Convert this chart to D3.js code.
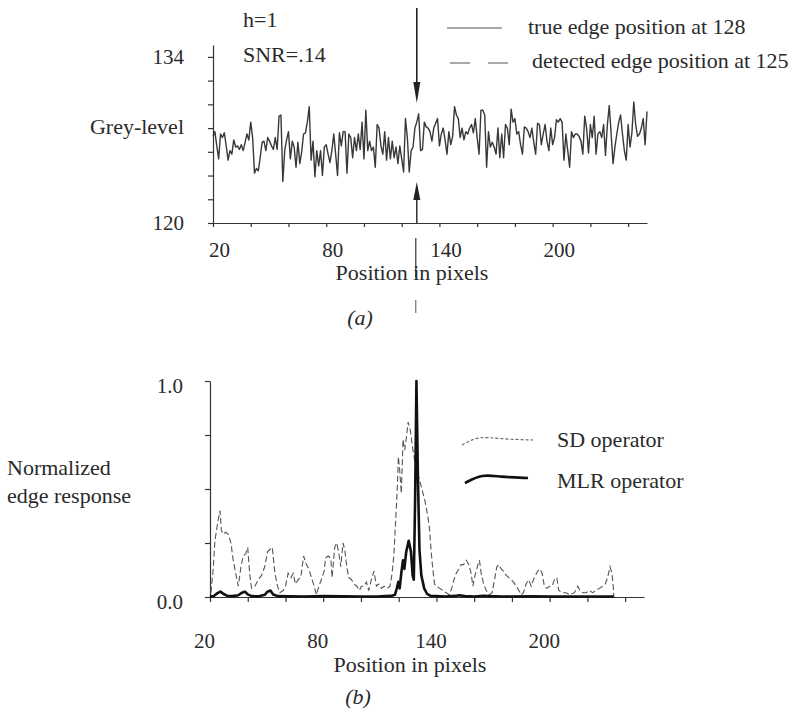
<!DOCTYPE html>
<html lang="en">
<head>
<meta charset="UTF-8">
<title>Grey-level profile and normalized edge response</title>
<script src="https://cdnjs.cloudflare.com/ajax/libs/d3/7.8.5/d3.min.js"></script>
<style>
  body { margin: 0; background: #fff; }
  svg { display: block; background: #fff; }
  text { font-family: "Liberation Serif", "Times New Roman", serif; fill: #2a2a2a; }
  .axis path, .axis line { stroke: #333; stroke-width: 1.2; }
  .axis text { font-size: 21px; }
  .label { font-size: 22px; }
</style>
</head>
<body>
<div id="chart"></div>
<script>
// ---- panel (a): grey-level profile, one sample per pixel from 20
const greyStart = 20;
const greyLevel = [
  127.3, 127.7, 126.5, 125.4, 127.5, 127.2, 127.6, 126.5, 125.3, 126.1,
  125.8, 127.0, 126.4, 126.5, 126.2, 126.6, 126.1, 126.8, 127.5, 127.0,
  128.5, 127.2, 124.2, 124.6, 124.4, 125.5, 126.8, 126.9, 126.1, 127.2,
  126.9, 126.5, 126.2, 127.2, 126.2, 129.0, 129.1, 123.5, 126.1, 127.0,
  127.7, 125.4, 126.9, 126.4, 124.7, 126.8, 125.0, 126.0, 127.5, 127.6,
  128.5, 129.8, 125.3, 126.9, 123.9, 126.1, 124.8, 126.1, 124.0, 126.4,
  126.6, 125.8, 125.1, 126.1, 127.5, 125.8, 124.0, 127.6, 126.5, 127.7,
  127.7, 124.2, 127.5, 127.2, 125.5, 127.2, 126.1, 127.5, 126.2, 128.5,
  125.4, 129.5, 126.1, 126.9, 126.1, 126.4, 124.7, 128.3, 128.0, 126.5,
  125.8, 127.7, 125.3, 127.2, 125.4, 126.9, 125.5, 126.4, 125.0, 126.5,
  125.4, 124.3, 128.8, 127.2, 124.3, 126.1, 126.4, 128.0, 128.5, 129.2,
  126.1, 126.2, 128.5, 128.1, 128.0, 127.7, 126.9, 128.0, 128.4, 128.8,
  126.5, 127.5, 128.0, 127.0, 125.8, 127.7, 126.6, 127.3, 129.8, 129.1,
  128.8, 127.2, 128.0, 127.0, 127.7, 127.5, 128.0, 128.3, 127.6, 128.8,
  127.2, 125.8, 129.5, 129.5, 129.1, 124.7, 127.7, 126.4, 126.8, 126.4,
  125.8, 128.0, 125.5, 127.5, 125.5, 128.3, 128.0, 126.6, 129.6, 128.5,
  128.8, 127.5, 127.7, 126.6, 125.8, 128.1, 128.0, 127.7, 127.2, 128.0,
  126.8, 125.8, 128.4, 128.3, 126.6, 127.5, 128.3, 126.9, 126.1, 128.0,
  126.6, 127.2, 128.7, 128.5, 128.8, 128.5, 125.3, 127.5, 126.1, 124.7,
  127.7, 127.2, 127.5, 127.5, 127.3, 126.9, 125.8, 129.0, 128.0, 125.9,
  128.3, 127.2, 129.0, 125.8, 127.5, 127.7, 127.2, 128.3, 125.7, 128.3,
  129.9, 127.5, 125.0, 126.4, 127.5, 128.5, 129.1, 127.5, 126.1, 125.3,
  128.3, 126.4, 127.6, 130.2, 128.3, 127.3, 127.5, 128.0, 128.8, 126.6,
  129.4
];
const trueEdge = 128;
const detectedEdge = 125;
const topXTicks = [20, 40, 60, 80, 100, 120, 140, 160, 180, 200, 220, 240];
const topXLabels = [20, 80, 140, 200];
const topYTicks = [120, 122, 124, 126, 128, 130, 132, 134];
const topYLabels = [120, 134];

// ---- panel (b): normalized edge responses
const sdPos = [
  20.5, 21.8, 22.6, 24, 25.3, 26, 27, 28.3, 29.7, 31.1, 32.3, 33.6, 35, 36.4, 37.6,
  38.9, 40, 41, 42, 43.8, 45.6, 47.3, 49, 50.5, 51.7, 53, 54.4, 55.8, 57, 58.8,
  60, 61.4, 62.9, 64.1, 65.3, 66.7, 68.1, 69.6, 71.1, 72.4, 73.8, 75.2, 76.4, 77.7, 79,
  80.5, 81.2, 82.6, 84, 84.7, 86.1, 87.2, 88.3, 89.3, 90.5, 91.4, 92.5, 93.5, 95, 96.4,
  97.8, 99.2, 100.2, 101.6, 102.9, 104.1, 105.5, 106.9, 108.2, 109.4, 110.8, 112.2, 114, 115.4, 116.5,
  117.5, 118.6, 119.3, 119.8, 120.5, 121.4, 122.3, 123.2, 124.1, 125, 126.2, 127.2, 128.5, 130.2, 132,
  133.8, 135.5, 136.4, 137.3, 138.2, 139, 139.9, 141.7, 143.4, 145.2, 147, 148.4, 149.6, 150.5, 151.9,
  153.1, 154.4, 155.8, 157.2, 158.4, 159.3, 160.7, 162, 162.8, 163.7, 165, 166.4, 168.1, 169.5, 170.8,
  172, 173.1, 174.3, 175.5, 177, 178.4, 179.6, 180.8, 182.3, 183.7, 184.9, 186.1, 187.5, 188.9, 190.2,
  191.4, 192.5, 193.7, 194.9, 196, 197.2, 198.5, 199.9, 201.3, 202.5, 203.8, 204.8, 206.6, 208.7, 210.8,
  213.1, 214.9, 216.1, 217.5, 219.3, 221, 222.8, 224.6, 226.3, 228.1, 229.5, 230.7, 232, 233, 233.7, 234
];
const sdValue = [
  0.02, 0.14, 0.26, 0.34, 0.40, 0.31, 0.29, 0.30, 0.29, 0.25, 0.17, 0.11, 0.05, 0.14, 0.19,
  0.20, 0.23, 0.11, 0.04, 0.05, 0.08, 0.10, 0.14, 0.21, 0.22, 0.23, 0.11, 0.05, 0.02, 0.03,
  0.05, 0.11, 0.09, 0.11, 0.06, 0.08, 0.09, 0.19, 0.15, 0.13, 0.09, 0.05, 0.01, 0.05, 0.08,
  0.12, 0.18, 0.19, 0.18, 0.09, 0.23, 0.25, 0.20, 0.14, 0.25, 0.22, 0.14, 0.09, 0.08, 0.06,
  0.05, 0.03, 0.05, 0.05, 0.07, 0.03, 0.08, 0.12, 0.05, 0.06, 0.04, 0.05, 0.04, 0.05, 0.11,
  0.20, 0.39, 0.51, 0.65, 0.59, 0.48, 0.73, 0.68, 0.74, 0.81, 0.77, 0.70, 0.63, 0.57, 0.51,
  0.45, 0.37, 0.31, 0.20, 0.12, 0.06, 0.05, 0.04, 0.03, 0.02, 0.01, 0.05, 0.09, 0.11, 0.13,
  0.15, 0.15, 0.17, 0.15, 0.11, 0.05, 0.11, 0.15, 0.17, 0.11, 0.06, 0.03, 0.01, 0.02, 0.08,
  0.14, 0.15, 0.13, 0.12, 0.10, 0.09, 0.08, 0.07, 0.05, 0.03, 0.01, 0.02, 0.06, 0.08, 0.05,
  0.08, 0.10, 0.12, 0.13, 0.11, 0.05, 0.04, 0.05, 0.05, 0.08, 0.09, 0.03, 0.02, 0.02, 0.01,
  0.02, 0.05, 0.03, 0.02, 0.02, 0.03, 0.02, 0.03, 0.04, 0.05, 0.06, 0.09, 0.14, 0.11, 0.05, 0.0
];
const mlrPos = [
  20, 22, 24, 25.5, 27, 29, 32, 35, 37, 38.5, 40, 42, 46, 49, 50.5, 52, 53.5, 56,
  62, 70, 80, 90, 100, 110, 116, 118, 119, 119.8, 120.5, 121.5, 122.3, 123, 124, 125.3,
  126.5, 127.4, 128, 128.7, 129.4, 130.2, 131, 132, 133.5, 135, 137, 145, 150, 152,
  155, 160, 165, 168, 175, 190, 200, 220, 234
];
const mlrValue = [
  0.003, 0.005, 0.018, 0.025, 0.015, 0.006, 0.004, 0.008, 0.02, 0.025, 0.012, 0.004, 0.003, 0.01, 0.025, 0.03, 0.012, 0.004,
  0.003, 0.002, 0.004, 0.003, 0.002, 0.003, 0.005, 0.01, 0.04, 0.07, 0.04, 0.12, 0.17, 0.13, 0.21, 0.26,
  0.21, 0.10, 0.08, 0.45, 1.0, 0.55, 0.22, 0.10, 0.04, 0.015, 0.005, 0.002, 0.005, 0.008,
  0.004, 0.002, 0.006, 0.004, 0.002, 0.003, 0.002, 0.002, 0.002
];
const botXTicks = [20, 40, 60, 80, 100, 120, 140, 160, 180, 200, 220, 240];
const botXLabels = [20, 80, 140, 200];
const botYTicks = [0, 0.25, 0.5, 0.75, 1];
const botYLabels = [0, 1];

const W = 803, H = 713;
const svg = d3.select("#chart").append("svg")
  .attr("width", W)
  .attr("height", H);

// ================= panel (a) =================
const xA = d3.scaleLinear().domain([20, 250]).range([213, 647]);
const yA = d3.scaleLinear().domain([120, 135]).range([223, 45]);

const gxA = svg.append("g")
  .attr("class", "axis")
  .attr("transform", `translate(0,${yA(120)})`)
  .call(d3.axisBottom(xA)
    .tickValues(topXTicks)
    .tickSize(4)
    .tickSizeOuter(0)
    .tickPadding(15)
    .tickFormat(d => topXLabels.includes(d) ? d : ""));
gxA.selectAll("text").attr("dx", 6);

svg.append("g")
  .attr("class", "axis")
  .attr("transform", `translate(${xA(20)},0)`)
  .call(d3.axisLeft(yA)
    .tickValues(topYTicks)
    .tickSize(5)
    .tickSizeOuter(0)
    .tickPadding(24)
    .tickFormat(d => topYLabels.includes(d) ? d : ""));

svg.append("path")
  .datum(greyLevel)
  .attr("fill", "none")
  .attr("stroke", "#383838")
  .attr("stroke-width", 1.4)
  .attr("stroke-linejoin", "round")
  .attr("d", d3.line()
    .x((d, i) => xA(greyStart + i))
    .y(d => yA(d)));

// arrows marking the edge
const ax = xA(trueEdge);
svg.append("line")
  .attr("x1", ax).attr("x2", ax)
  .attr("y1", 8).attr("y2", 84)
  .attr("stroke", "#222").attr("stroke-width", 1.6);
svg.append("path")
  .attr("d", `M${ax - 3.5},82 L${ax + 3.5},82 L${ax},103 Z`)
  .attr("fill", "#222");
svg.append("line")
  .attr("x1", ax).attr("x2", ax)
  .attr("y1", 198).attr("y2", yA(120))
  .attr("stroke", "#222").attr("stroke-width", 1.4);
svg.append("path")
  .attr("d", `M${ax - 3.5},200 L${ax + 3.5},200 L${ax},182 Z`)
  .attr("fill", "#222");
// the marker line continues below the axis
svg.append("line")
  .attr("x1", ax - 1).attr("x2", ax - 1)
  .attr("y1", 238).attr("y2", 278)
  .attr("stroke", "#333").attr("stroke-width", 1.2);
svg.append("line")
  .attr("x1", ax - 1).attr("x2", ax - 1)
  .attr("y1", 300).attr("y2", 313)
  .attr("stroke", "#555").attr("stroke-width", 1);

svg.append("text").attr("class", "label")
  .attr("x", 243).attr("y", 27).text("h=1");
svg.append("text").attr("class", "label")
  .attr("x", 243).attr("y", 62).text("SNR=.14");

svg.append("text").attr("class", "label")
  .attr("x", 184).attr("y", 134)
  .attr("text-anchor", "end")
  .text("Grey-level");

svg.append("text").attr("class", "label")
  .attr("x", 412).attr("y", 280)
  .attr("text-anchor", "middle")
  .text("Position in pixels");

svg.append("text").attr("class", "label")
  .attr("x", 360).attr("y", 325)
  .attr("text-anchor", "middle")
  .attr("font-style", "italic")
  .text("(a)");

// legend (a)
svg.append("line")
  .attr("x1", 447).attr("x2", 502).attr("y1", 28).attr("y2", 28)
  .attr("stroke", "#555").attr("stroke-width", 1.2);
svg.append("text").attr("class", "label")
  .attr("x", 528).attr("y", 34)
  .text(`true edge position at ${trueEdge}`);
svg.append("line")
  .attr("x1", 450).attr("x2", 508).attr("y1", 63).attr("y2", 63)
  .attr("stroke", "#555").attr("stroke-width", 1.2)
  .attr("stroke-dasharray", "20,18");
svg.append("text").attr("class", "label")
  .attr("x", 532).attr("y", 68)
  .text(`detected edge position at ${detectedEdge}`);

// ================= panel (b) =================
const xB = d3.scaleLinear().domain([20, 250]).range([210, 644]);
const yB = d3.scaleLinear().domain([0, 1]).range([597, 381]);

const gxB = svg.append("g")
  .attr("class", "axis")
  .attr("transform", `translate(0,${yB(0)})`)
  .call(d3.axisBottom(xB)
    .tickValues(botXTicks)
    .tickSize(5)
    .tickSizeOuter(0)
    .tickPadding(31)
    .tickFormat(d => botXLabels.includes(d) ? d : ""));
gxB.selectAll("text").attr("dx", -6);

const gyB = svg.append("g")
  .attr("class", "axis")
  .attr("transform", `translate(${xB(20)},0)`)
  .call(d3.axisLeft(yB)
    .tickValues(botYTicks)
    .tickSize(5)
    .tickSizeOuter(0)
    .tickPadding(22)
    .tickFormat(d => botYLabels.includes(d) ? d3.format(".1f")(d) : ""));
gyB.selectAll("text").attr("dy", "0.55em");

const sdData = sdPos.map((p, i) => [p, sdValue[i]]);
const mlrData = mlrPos.map((p, i) => [p, mlrValue[i]]);
const lineB = d3.line().x(d => xB(d[0])).y(d => yB(d[1]));

svg.append("path")
  .datum(sdData)
  .attr("fill", "none")
  .attr("stroke", "#555")
  .attr("stroke-width", 1.1)
  .attr("stroke-dasharray", "6,3")
  .attr("d", lineB);

svg.append("path")
  .datum(mlrData)
  .attr("fill", "none")
  .attr("stroke", "#111")
  .attr("stroke-width", 2.6)
  .attr("stroke-linejoin", "round")
  .attr("d", lineB);

svg.append("text").attr("class", "label")
  .attr("x", 7).attr("y", 475).text("Normalized");
svg.append("text").attr("class", "label")
  .attr("x", 7).attr("y", 503).text("edge response");

svg.append("text").attr("class", "label")
  .attr("x", 410).attr("y", 672)
  .attr("text-anchor", "middle")
  .text("Position in pixels");

svg.append("text").attr("class", "label")
  .attr("x", 358).attr("y", 704)
  .attr("text-anchor", "middle")
  .attr("font-style", "italic")
  .text("(b)");

// legend (b): hand-drawn looking keys
const keyLine = d3.line().curve(d3.curveBasis);
svg.append("path")
  .attr("d", keyLine([[462, 445], [478, 436], [500, 439], [533, 440]]))
  .attr("fill", "none")
  .attr("stroke", "#666")
  .attr("stroke-width", 1.1)
  .attr("stroke-dasharray", "3,2");
svg.append("text").attr("class", "label")
  .attr("x", 557).attr("y", 447).text("SD operator");
svg.append("path")
  .attr("d", keyLine([[465, 483], [482, 474], [500, 477], [528, 478]]))
  .attr("fill", "none")
  .attr("stroke", "#111")
  .attr("stroke-width", 2.6);
svg.append("text").attr("class", "label")
  .attr("x", 557).attr("y", 488).text("MLR operator");
</script>
</body>
</html>
